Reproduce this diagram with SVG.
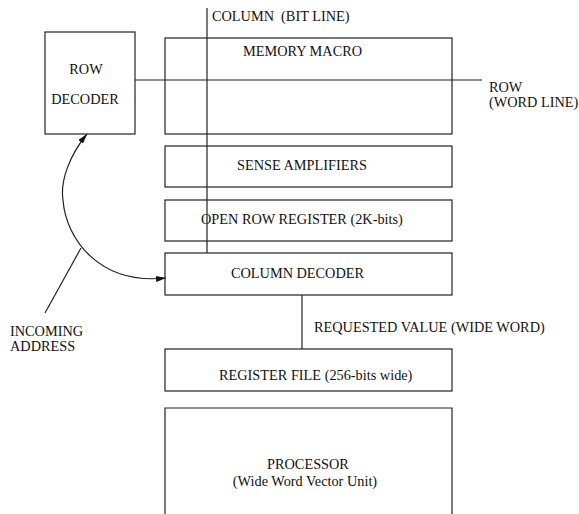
<svg xmlns="http://www.w3.org/2000/svg" width="579" height="514" viewBox="0 0 579 514">
<style>
.box{fill:none;stroke:#222;stroke-width:1.2}
.ln{fill:none;stroke:#222;stroke-width:1.2}
text{font-family:'Liberation Serif','DejaVu Serif',serif;font-size:14.3px;fill:#111}
.m{text-anchor:middle}
</style>
<defs>
<marker id="ah" viewBox="0 0 10 6" refX="10" refY="3" markerWidth="10" markerHeight="6" markerUnits="userSpaceOnUse" orient="auto-start-reverse">
<path d="M0,0 L10,3 L0,6 z" fill="#111"/>
</marker>
</defs>
<rect width="579" height="514" fill="#fff"/>
<g id="connectors">
<line class="ln" x1="207" y1="8" x2="207" y2="253"/>
<line class="ln" x1="135" y1="80" x2="482" y2="80"/>
<line class="ln" x1="302" y1="295" x2="302" y2="349"/>
<path class="ln" d="M87,134 C70,155 60,180 63,200 C66,240 100,285 166,278" marker-start="url(#ah)" marker-end="url(#ah)"/>
<line class="ln" x1="45" y1="313" x2="81" y2="248"/>
</g>
<g font-family="Liberation Serif, serif">
<g id="row-decoder">
<rect class="box" x="45" y="32" width="90" height="102"/>
<text class="m" x="86" y="74">ROW</text>
<text class="m" x="85" y="104">DECODER</text>
</g>
<g id="memory-macro">
<rect class="box" x="165" y="38" width="287" height="96"/>
<text x="243" y="56">MEMORY MACRO</text>
</g>
<g id="column-label">
<text x="212" y="21" xml:space="preserve">COLUMN  (BIT LINE)</text>
</g>
<g id="row-label">
<text x="489" y="92">ROW</text>
<text x="489" y="107">(WORD LINE)</text>
</g>
<g id="sense-amplifiers">
<rect class="box" x="165" y="146" width="287" height="41"/>
<text x="237" y="170">SENSE AMPLIFIERS</text>
</g>
<g id="open-row-register">
<rect class="box" x="165" y="200" width="287" height="41"/>
<text x="201" y="224">OPEN ROW REGISTER (2K-bits)</text>
</g>
<g id="column-decoder">
<rect class="box" x="165" y="253" width="287" height="42"/>
<text x="231" y="278">COLUMN DECODER</text>
</g>
<g id="requested-value">
<text x="314" y="332">REQUESTED VALUE (WIDE WORD)</text>
</g>
<g id="register-file">
<rect class="box" x="165" y="349" width="287" height="42"/>
<text x="219" y="380">REGISTER FILE (256-bits wide)</text>
</g>
<g id="processor">
<path class="box" d="M165,520 L165,408 L452,408 L452,520"/>
<text class="m" x="308" y="469">PROCESSOR</text>
<text class="m" x="305" y="486">(Wide Word Vector Unit)</text>
</g>
<g id="incoming-address">
<text x="10" y="336">INCOMING</text>
<text x="10" y="351">ADDRESS</text>
</g>
</g>
</svg>
